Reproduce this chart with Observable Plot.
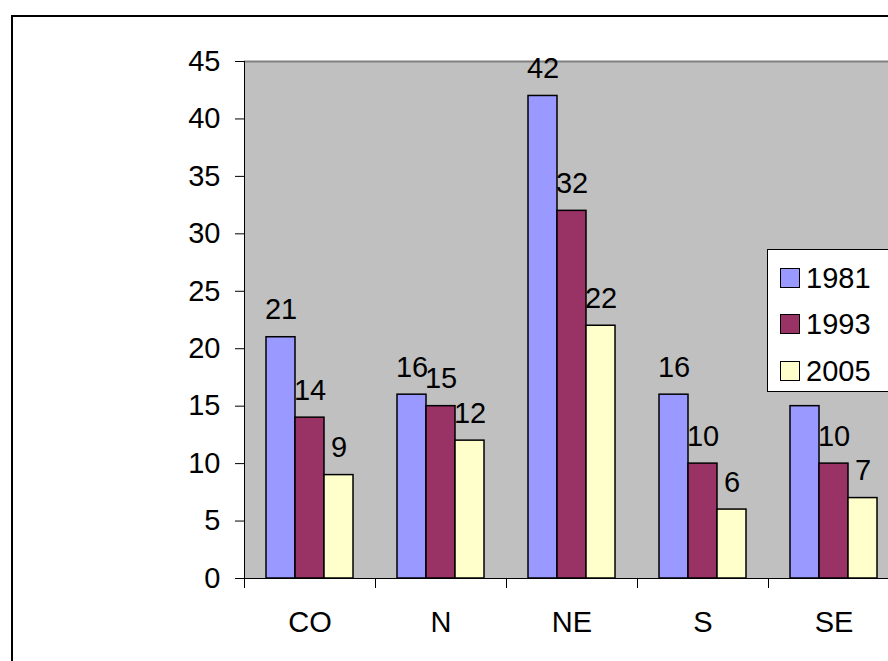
<!DOCTYPE html>
<html><head><meta charset="utf-8">
<script src="https://cdn.jsdelivr.net/npm/d3@7"></script>
<script src="https://cdn.jsdelivr.net/npm/@observablehq/plot@0.6"></script>
<style>
html,body{margin:0;padding:0;background:#fff;overflow:hidden;width:888px;height:661px;}
#wrap{position:relative;width:888px;height:661px;overflow:hidden;font-family:"Liberation Sans",Arial,sans-serif;}
#border{position:absolute;left:11px;top:15px;width:1000px;height:1000px;border:2px solid #000;box-sizing:border-box;pointer-events:none;}
#chart{position:absolute;left:0;top:0;width:900px;}
#chart svg{max-width:none !important;}
#legend{position:absolute;left:767px;top:249px;width:150px;height:143px;border:1px solid #000;background:#fff;box-sizing:border-box;}
.row{position:absolute;left:12px;height:20px;display:flex;align-items:center;font-size:29px;line-height:20px;color:#000;white-space:nowrap;}
.sw{width:20px;height:20px;border:1.5px solid #000;box-sizing:border-box;margin-right:6px;flex:none;}
</style>
</head><body>
<div id="wrap">
  <div id="border"></div>
  <div id="chart"></div>
  <div id="legend"></div>
</div>
<script>
const categories = ["CO", "N", "NE", "S", "SE"];
const years = ["1981", "1993", "2005"];
const v1981 = [21, 16, 42, 16, 15];
const v1993 = [14, 15, 32, 10, 10];
const v2005 = [9, 12, 22, 6, 7];
const colors = ["#9999FF", "#993366", "#FFFFCC"];
const yTicks = [0, 5, 10, 15, 20, 25, 30, 35, 40, 45];

const series = [v1981, v1993, v2005];
const data = categories.flatMap((c, i) => years.map((yr, j) => ({region: c, year: yr, value: series[j][i]})));
// in the reference, the label of SE/1981 is hidden behind the legend box
const labelData = data.filter(d => !(d.region === "SE" && d.year === "1981"));

const font = '"Liberation Sans", Arial, sans-serif';
const chart = Plot.plot({
  width: 900, height: 661,
  marginLeft: 244, marginRight: 1, marginTop: 61, marginBottom: 83,
  style: {fontFamily: font, fontSize: "29px", color: "#000", background: "transparent", overflow: "visible", maxWidth: "none"},
  fx: {domain: categories, padding: 0, label: null, axis: "bottom", tickSize: 0, tickPadding: 33},
  x: {domain: years, paddingInner: 0, paddingOuter: 0.758, axis: null},
  y: {domain: [0, 45], axis: null},
  color: {domain: years, range: colors},
  marks: [
    Plot.frame({fill: "#c0c0c0", stroke: "none", shapeRendering: "crispEdges"}),
    Plot.ruleY([45], {stroke: "#808080", strokeWidth: 2}),
    Plot.axisY(yTicks, {tickSize: 9, tickPadding: 15, label: null, stroke: "#000", strokeOpacity: 1}),
    Plot.barY(data, {fx: "region", x: "year", y: "value", fill: "year", stroke: "#000", strokeWidth: 1.5}),
    Plot.ruleY([0], {stroke: "#000"}),
    Plot.text(labelData, {fx: "region", x: "year", y: "value", text: d => String(d.value), lineAnchor: "bottom", dy: -18, fill: "#000", fontSize: 29})
  ]
});
document.getElementById("chart").appendChild(chart);

// axis line and category boundary ticks from the library's scales
const fxs = chart.scale("fx"), ys = chart.scale("y");
const y0 = ys.apply(0), yTop = ys.apply(45);
const bounds = categories.map(c => fxs.apply(c));
bounds.push(fxs.apply(categories[categories.length - 1]) + fxs.bandwidth);
const svg = d3.select(chart);
const g = svg.append("g").attr("stroke", "#000").attr("shape-rendering", "crispEdges");
g.append("line").attr("x1", bounds[0]).attr("x2", bounds[0]).attr("y1", yTop).attr("y2", y0);
g.selectAll("line.b").data(bounds).join("line").attr("class", "b")
  .attr("x1", d => d).attr("x2", d => d).attr("y1", y0).attr("y2", y0 + 10);

// legend
const legend = document.getElementById("legend");
const tops = [18, 64, 111];
years.forEach((yr, i) => {
  const row = document.createElement("div");
  row.className = "row";
  row.style.top = tops[i] + "px";
  const sw = document.createElement("div");
  sw.className = "sw";
  sw.style.background = colors[i];
  const t = document.createElement("span");
  t.textContent = yr;
  row.appendChild(sw); row.appendChild(t);
  legend.appendChild(row);
});
</script>
</body></html>
